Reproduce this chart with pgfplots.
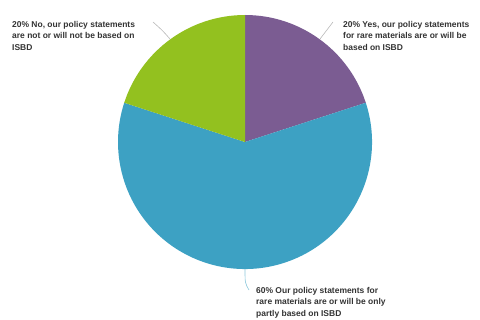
\documentclass[border=0pt]{standalone}
\usepackage{pgfplots}
\pgfplotsset{compat=1.18}
\usepackage{fontspec}
\setmainfont{Liberation Sans}
\definecolor{cpurple}{HTML}{7B5C92}
\definecolor{cblue}{HTML}{3DA1C3}
\definecolor{cgreen}{HTML}{93C11F}
\definecolor{ctext}{HTML}{333333}
\definecolor{cline}{HTML}{B8B8B8}
% shares (percent), in clockwise order from 12 o'clock
\def\vYes{20}
\def\vPartly{60}
\def\vNo{20}
\begin{document}
\begin{tikzpicture}
\begin{axis}[width=480bp,height=319bp,scale only axis,
  xmin=0,xmax=480,ymin=0,ymax=319,hide axis,clip=false]
\path (axis cs:0,0) rectangle (axis cs:480,319);
\pgfmathsetmacro{\aA}{90}
\pgfmathsetmacro{\aB}{90-3.6*\vYes}
\pgfmathsetmacro{\aC}{\aB-3.6*\vPartly}
\pgfmathsetmacro{\aD}{\aC-3.6*\vNo}
\fill[cpurple] (axis cs:245,177) -- ++(\aA:127bp) arc[start angle=\aA,end angle=\aB,radius=127bp] -- cycle;
\fill[cblue] (axis cs:245,177) -- ++(\aB:127bp) arc[start angle=\aB,end angle=\aC,radius=127bp] -- cycle;
\fill[cgreen] (axis cs:245,177) -- ++(\aC:127bp) arc[start angle=\aC,end angle=\aD,radius=127bp] -- cycle;
% leader lines
\draw[cline,line width=0.6bp] (axis cs:170,280) .. controls (axis cs:163,288) .. (axis cs:153,297);
\draw[cline,line width=0.6bp] (axis cs:320,280) .. controls (axis cs:327,288) .. (axis cs:333,297);
\draw[cblue!60,line width=0.6bp] (axis cs:245,50) .. controls (axis cs:245,36) .. (axis cs:249,29);
% labels
\node[anchor=north west,inner sep=0pt,align=left,text=ctext,font=\bfseries\fontsize{8.5}{11.7}\selectfont]
  at (axis cs:12,298) {20\% No, our policy statements\\are not or will not be based on\\ISBD};
\node[anchor=north west,inner sep=0pt,align=left,text=ctext,font=\bfseries\fontsize{8.5}{11.7}\selectfont]
  at (axis cs:343,298) {20\% Yes, our policy statements\\for rare materials are or will be\\based on ISBD};
\node[anchor=north west,inner sep=0pt,align=left,text=ctext,font=\bfseries\fontsize{8.5}{11.7}\selectfont]
  at (axis cs:256,32) {60\% Our policy statements for\\rare materials are or will be only\\partly based on ISBD};
\end{axis}
\end{tikzpicture}
\end{document}
